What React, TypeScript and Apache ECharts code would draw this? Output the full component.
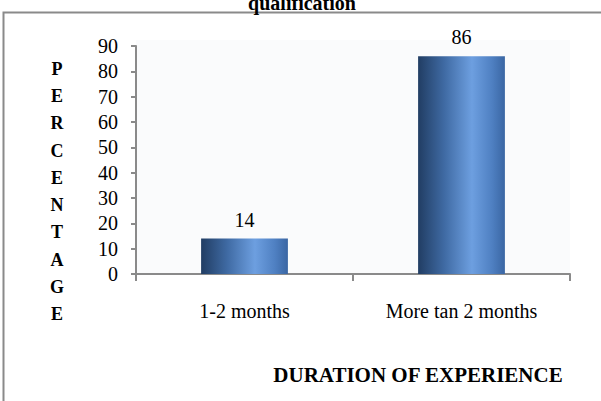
import React, { useEffect, useRef } from "react";
import * as echarts from "echarts";

const categories = ["1-2 months", "More tan 2 months"];
const values = [14, 86];
const yTicks = [0, 10, 20, 30, 40, 50, 60, 70, 80, 90];
const yTitleLetters = ["P", "E", "R", "C", "E", "N", "T", "A", "G", "E"];
const titleText = "qualification";
const xTitleText = "DURATION OF EXPERIENCE";

const FONT = "'Liberation Serif', 'Times New Roman', serif";

export default function App() {
  const ref = useRef<HTMLDivElement>(null);
  useEffect(() => {
    if (!ref.current) return;
    const chart = echarts.init(ref.current, undefined, { renderer: "svg" });
    const barGradient = new echarts.graphic.LinearGradient(0, 0, 1, 0, [
      { offset: 0, color: "#213d63" },
      { offset: 0.3, color: "#3f6aa3" },
      { offset: 0.62, color: "#6d9fe0" },
      { offset: 0.85, color: "#4f80c2" },
      { offset: 1, color: "#3a66a3" },
    ]);
    chart.setOption({
      animation: false,
      backgroundColor: "#ffffff",
      grid: { left: 136, right: 31, top: 46, bottom: 127, containLabel: false },
      graphic: [
        {
          type: "rect",
          shape: { x: 136, y: 40, width: 434, height: 234 },
          style: { fill: "#fafbfc", stroke: "none" },
          z: -10,
        },
        {
          type: "rect",
          shape: { x: 3.5, y: 12.5, width: 640, height: 420 },
          style: { fill: "none", stroke: "#8a8a8a", lineWidth: 2 },
        },
        {
          type: "text",
          x: 302,
          y: 3,
          style: {
            text: titleText,
            font: `bold 20px ${FONT}`,
            fill: "#000",
            align: "center",
            verticalAlign: "middle",
          },
        },
        {
          type: "text",
          x: 57,
          y: 55,
          style: {
            text: yTitleLetters.join("\n"),
            font: `bold 18px ${FONT}`,
            lineHeight: 27.3,
            fill: "#000",
            align: "center",
            verticalAlign: "top",
          },
        },
        {
          type: "text",
          x: 418,
          y: 375,
          style: {
            text: xTitleText,
            font: `bold 21px ${FONT}`,
            fill: "#000",
            align: "center",
            verticalAlign: "middle",
          },
        },
      ],
      xAxis: {
        type: "category",
        data: categories,
        axisLine: { show: true, lineStyle: { color: "#8a8a8a", width: 2 } },
        axisTick: { show: true, length: 7, lineStyle: { color: "#8a8a8a", width: 2 } },
        axisLabel: {
          color: "#000",
          fontFamily: FONT,
          fontSize: 20,
          margin: 27,
        },
        splitLine: { show: false },
      },
      yAxis: {
        type: "value",
        min: yTicks[0],
        max: yTicks[yTicks.length - 1],
        interval: 10,
        axisLine: { show: true, lineStyle: { color: "#8a8a8a", width: 2 } },
        axisTick: { show: true, length: 5, lineStyle: { color: "#8a8a8a", width: 2 } },
        axisLabel: {
          color: "#000",
          fontFamily: FONT,
          fontSize: 20,
          margin: 18,
        },
        splitLine: { show: false },
      },
      series: [
        {
          type: "bar",
          data: values,
          barWidth: "40%",
          itemStyle: { color: barGradient },
          label: {
            show: true,
            position: "top",
            distance: 9,
            color: "#000",
            fontFamily: FONT,
            fontSize: 20,
          },
        },
      ],
    });
    return () => chart.dispose();
  }, []);
  return (
    <div
      ref={ref}
      style={{ position: "fixed", left: 0, top: 0, width: 601, height: 401 }}
    />
  );
}
